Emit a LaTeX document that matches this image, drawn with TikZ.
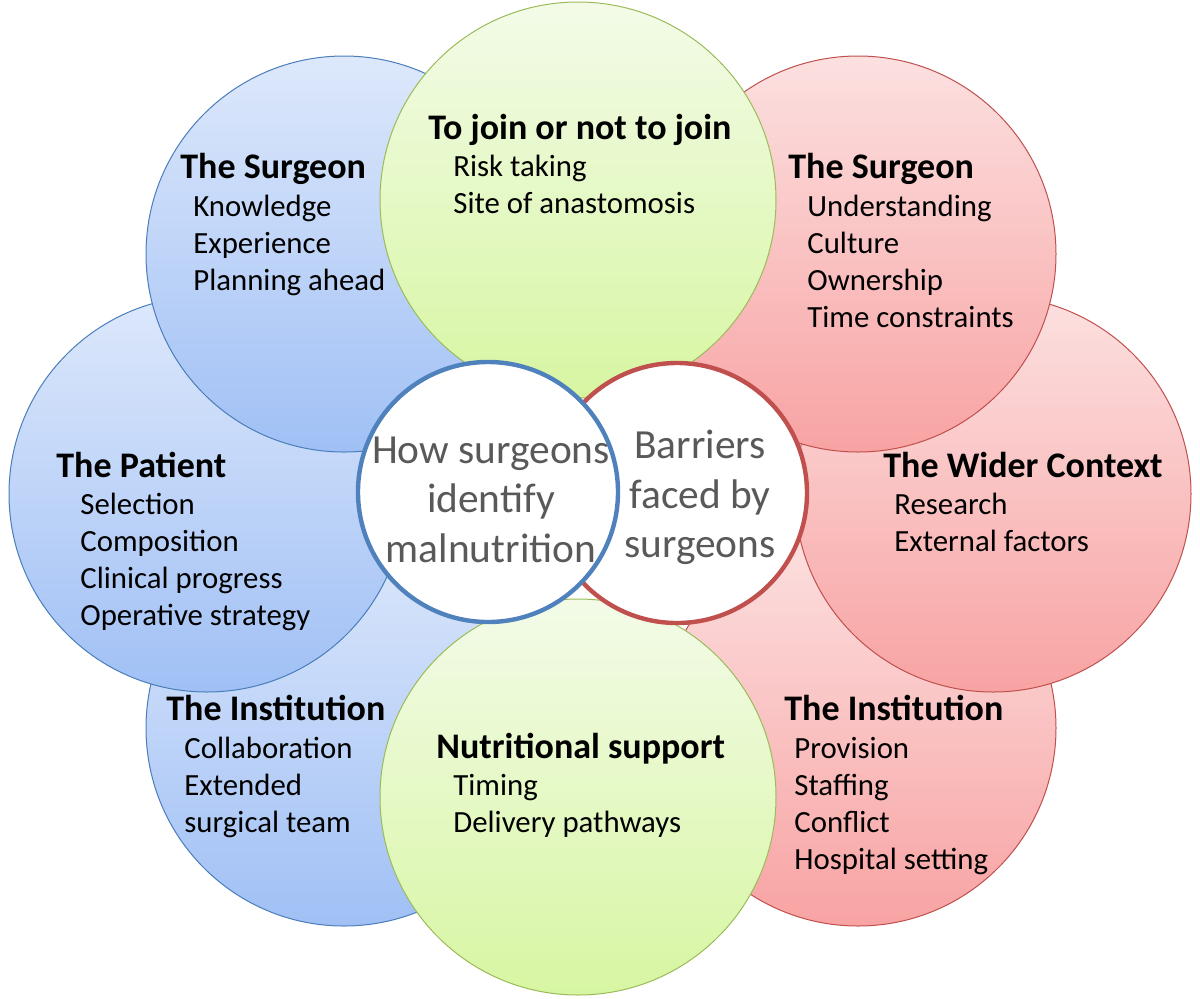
\documentclass[tikz,border=0pt]{standalone}
\usepackage{fontspec}
\setmainfont{Carlito}
\usetikzlibrary{positioning}
\definecolor{BlueTop}{HTML}{DDE8FB}
\definecolor{BlueBottom}{HTML}{A0C0F5}
\definecolor{BlueEdge}{HTML}{4A7EBB}
\definecolor{GreenTop}{HTML}{F3FBE8}
\definecolor{GreenBottom}{HTML}{D7F6A2}
\definecolor{GreenEdge}{HTML}{9BBB59}
\definecolor{RedTop}{HTML}{FCE0E0}
\definecolor{RedBottom}{HTML}{F8A3A3}
\definecolor{RedEdge}{HTML}{C0504D}
\definecolor{CoreBlue}{HTML}{4F81BD}
\definecolor{CoreGrey}{HTML}{595959}

\begin{document}
\begin{tikzpicture}[x=0.5pt, y=-0.5pt,
    bluepetal/.style={draw=BlueEdge, line width=0.5pt, top color=BlueTop, bottom color=BlueBottom},
    greenpetal/.style={draw=GreenEdge, line width=0.5pt, top color=GreenTop, bottom color=GreenBottom},
    redpetal/.style={draw=RedEdge, line width=0.5pt, top color=RedTop, bottom color=RedBottom},
    core/.style={fill=white, line width=2.2pt},
    head/.style={anchor=base west, inner sep=0pt, font=\fontsize{18}{21}\selectfont\bfseries},
    item/.style={anchor=base west, inner sep=0pt, font=\fontsize{15.4}{18}\selectfont},
    coretext/.style={anchor=base, inner sep=0pt, text=CoreGrey, font=\fontsize{20.7}{24}\selectfont}]
    \useasboundingbox (0,0) rectangle (1200,998);

    % Blue petals
    \draw[bluepetal] (344,728) circle (198);
    \draw[bluepetal] (207,494) circle (198);
    \draw[bluepetal] (344,254) circle (198);

    % Red petals
    \draw[redpetal] (858,728) circle (198);
    \draw[redpetal] (993,494) circle (198);
    \draw[redpetal] (858,254) circle (198);

    % Green petals
    \draw[greenpetal] (578,200) circle (198);
    \draw[greenpetal] (578,797) circle (198);

    % Centre circles
    \draw[core, draw=RedEdge] (677,493) circle (130);
    \draw[core, draw=CoreBlue] (488,492) circle (130);

    % The Surgeon (left)
    \node[head] (surgeonL) at (180,178) {The Surgeon};
    \node[item] (surgeonL-1) at (193,216) {Knowledge};
    \node[item] (surgeonL-2) at (193,253) {Experience};
    \node[item] (surgeonL-3) at (193,290) {Planning ahead};

    % To join or not to join
    \node[head] (join) at (428,139) {To join or not to join};
    \node[item] (join-1) at (453,176) {Risk taking};
    \node[item] (join-2) at (453,213) {Site of anastomosis};

    % The Surgeon (right)
    \node[head] (surgeonR) at (788,178) {The Surgeon};
    \node[item] (surgeonR-1) at (807,216) {Understanding};
    \node[item] (surgeonR-2) at (807,253) {Culture};
    \node[item] (surgeonR-3) at (807,290) {Ownership};
    \node[item] (surgeonR-4) at (807,327) {Time constraints};

    % The Patient
    \node[head] (patient) at (56,477) {The Patient};
    \node[item] (patient-1) at (80,514) {Selection};
    \node[item] (patient-2) at (80,551) {Composition};
    \node[item] (patient-3) at (80,588) {Clinical progress};
    \node[item] (patient-4) at (80,625) {Operative strategy};

    % The Wider Context
    \node[head] (wider) at (883,477) {The Wider Context};
    \node[item] (wider-1) at (894,514) {Research};
    \node[item] (wider-2) at (894,551) {External factors};

    % The Institution (left)
    \node[head] (instL) at (166,720) {The Institution};
    \node[item] (instL-1) at (184,758) {Collaboration};
    \node[item] (instL-2) at (184,795) {Extended};
    \node[item] (instL-3) at (184,832) {surgical team};

    % Nutritional support
    \node[head] (nutrition) at (436,758) {Nutritional support};
    \node[item] (nutrition-1) at (453,795) {Timing};
    \node[item] (nutrition-2) at (453,832) {Delivery pathways};

    % The Institution (right)
    \node[head] (instR) at (784,720) {The Institution};
    \node[item] (instR-1) at (794,758) {Provision};
    \node[item] (instR-2) at (794,795) {Staffing};
    \node[item] (instR-3) at (794,832) {Conflict};
    \node[item] (instR-4) at (794,869) {Hospital setting};

    % Centre texts
    \node[coretext] (how-1) at (491,463) {How surgeons};
    \node[coretext] (how-2) at (491,512) {identify};
    \node[coretext] (how-3) at (491,562) {malnutrition};
    \node[coretext] (bar-1) at (700,458) {Barriers};
    \node[coretext] (bar-2) at (700,508) {faced by};
    \node[coretext] (bar-3) at (700,557) {surgeons};
\end{tikzpicture}
\end{document}
